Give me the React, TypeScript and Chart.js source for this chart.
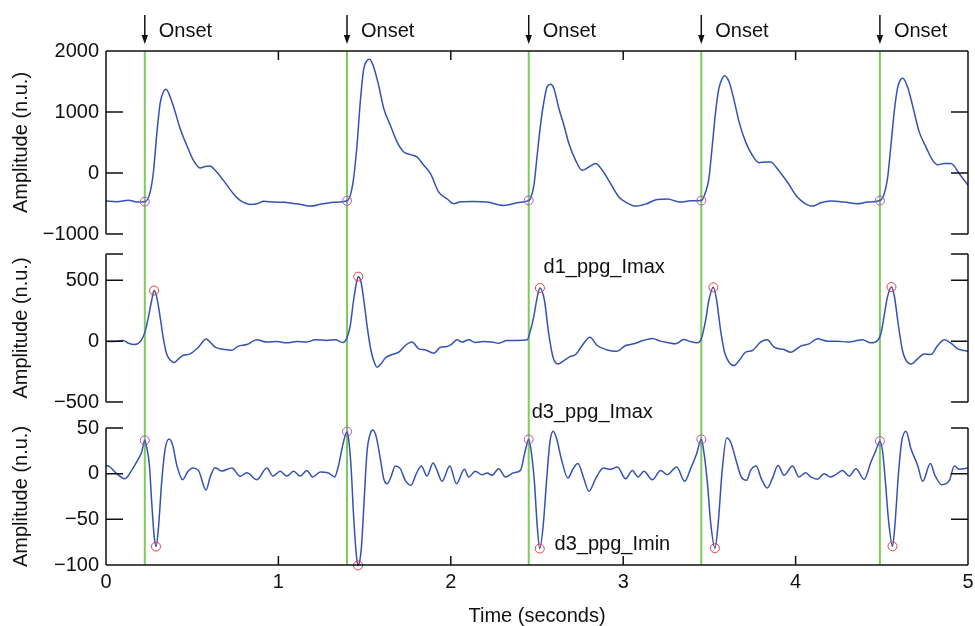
import { useEffect, useRef } from "react";
import { Chart, registerables } from "chart.js";
Chart.register(...registerables);

const FONT = '"Liberation Sans", Arial, Helvetica, sans-serif';
const BLUE = "#3452b4";
const GREEN = "#7dcc5c";
const PURPLE = "#b54fc6";
const RED = "#ee3b3b";
const INK = "#111111";

// ---------- data ----------
const onsetTimes = [0.225, 1.398, 2.452, 3.453, 4.489];
const onsetValues = [-470, -455, -449, -452, -452];

const ppgTime = [
  0, 0.062, 0.13, 0.178, 0.225, 0.256, 0.275, 0.294, 0.314, 0.333, 0.348, 0.372, 0.401, 0.43, 0.468, 0.507, 0.546, 0.575,
  0.604, 0.633, 0.681, 0.739, 0.778, 0.836, 0.88, 0.914, 0.972, 1.03, 1.088, 1.13, 1.185, 1.25, 1.32, 1.398, 1.417, 1.436,
  1.456, 1.475, 1.494, 1.514, 1.529, 1.552, 1.581, 1.611, 1.649, 1.688, 1.727, 1.765, 1.804, 1.843, 1.882, 1.93, 1.978,
  2.017, 2.056, 2.133, 2.211, 2.307, 2.385, 2.452, 2.462, 2.482, 2.501, 2.52, 2.54, 2.559, 2.579, 2.598, 2.627, 2.656, 2.685,
  2.724, 2.762, 2.801, 2.84, 2.879, 2.927, 2.975, 3.014, 3.072, 3.13, 3.198, 3.256, 3.333, 3.391, 3.453, 3.478, 3.497, 3.517,
  3.536, 3.555, 3.575, 3.588, 3.614, 3.643, 3.672, 3.71, 3.749, 3.788, 3.826, 3.855, 3.894, 3.952, 4.01, 4.049, 4.098, 4.146,
  4.204, 4.282, 4.359, 4.417, 4.489, 4.514, 4.533, 4.553, 4.572, 4.591, 4.607, 4.622, 4.649, 4.678, 4.717, 4.756, 4.795,
  4.824, 4.863, 4.901, 4.95, 5.0,
];
const ppgValue = [
  -460, -470, -445, -475, -470, -313, 16, 620, 1140, 1332, 1371, 1250, 1003, 729, 455, 208, 82, 105,
  115, 44, -121, -340, -450, -515, -500, -462, -477, -480, -500, -515, -543, -510, -480, -455, -367, -93,
  455, 1168, 1689, 1842, 1864, 1743, 1442, 1058, 784, 510, 345, 302, 263, 126, -11, -313, -422,
  -504, -472, -466, -477, -532, -488, -449, -422, -203, 291, 780, 1168, 1415, 1453, 1387, 1058, 784, 483,
  208, 44, 99, 154, 44, -175, -395, -477, -543, -510, -433, -428, -477, -455, -452, -313, -93, 455,
  1003, 1387, 1552, 1596, 1497, 1195, 839, 510, 291, 170, 181, 181, 71, -148, -395, -488, -543, -488,
  -461, -477, -504, -477, -452, -340, -93, 455, 1003, 1387, 1524, 1552, 1415, 1113, 674, 428, 208,
  137, 154, 154, -11, -203,
];

const d1Time = [
  0, 0.043, 0.101, 0.13, 0.168, 0.201, 0.226, 0.246, 0.265, 0.279, 0.294, 0.314, 0.333, 0.352, 0.376, 0.395, 0.42, 0.449,
  0.488, 0.536, 0.581, 0.604, 0.633, 0.681, 0.73, 0.768, 0.817, 0.875, 0.933, 0.991, 1.049, 1.107, 1.165, 1.214, 1.281, 1.33,
  1.373, 1.398, 1.417, 1.436, 1.452, 1.463, 1.479, 1.498, 1.518, 1.537, 1.556, 1.572, 1.595, 1.62, 1.659, 1.698, 1.736,
  1.775, 1.814, 1.853, 1.901, 1.94, 1.978, 2.007, 2.036, 2.065, 2.104, 2.142, 2.191, 2.239, 2.278, 2.326, 2.385, 2.443,
  2.462, 2.481, 2.501, 2.517, 2.543, 2.568, 2.593, 2.621, 2.656, 2.691, 2.724, 2.762, 2.807, 2.849, 2.907, 2.962, 3.014,
  3.062, 3.111, 3.169, 3.217, 3.256, 3.304, 3.353, 3.382, 3.43, 3.453, 3.478, 3.497, 3.523, 3.542, 3.565, 3.588, 3.614,
  3.643, 3.672, 3.71, 3.749, 3.797, 3.836, 3.875, 3.933, 3.972, 4.03, 4.078, 4.127, 4.185, 4.243, 4.301, 4.34, 4.388,
  4.436, 4.475, 4.495, 4.514, 4.533, 4.556, 4.572, 4.595, 4.62, 4.649, 4.672, 4.707, 4.746, 4.785, 4.824, 4.863, 4.901,
  4.94, 4.979, 5.0,
];
const d1Value = [
  -3, -3, 6, -17, -28, 0, 74, 198, 336, 416, 364, 198, 19, -105, -160, -176, -146, -116,
  -105, -50, 17, -8, -50, -66, -74, -41, -28, 11, -8, -3, -14, -3, -6, 11, 6, 11,
  -11, 28, 129, 336, 474, 530, 488, 309, 88, -77, -174, -215, -187, -138, -110, -91, -36,
  -8, -63, -72, -99, -50, -44, -22, 11, -8, 11, -11, -3, -8, -17, 6, 6, 11,
  88, 200, 360, 437, 336, 61, -132, -187, -160, -127, -110, -36, 33, -36, -72, -83, -36,
  -22, 3, 22, 0, -11, -22, 14, 0, -14, 19, 171, 336, 442, 336, 88, -91, -174,
  -201, -160, -91, -77, -8, 11, -50, -69, -91, -41, -22, 19, 0, 0, -8, 0, 11,
  -14, 6, 61, 212, 364, 445, 377, 143, -77, -174, -187, -146, -105, -110, -36, 11, -17,
  -63, -77, -83,
];
const d1MaxTime = [0.279, 1.463, 2.517, 3.523, 4.556];
const d1MaxValue = [416, 530, 437, 442, 445];

const d3Time = [
  0, 0.023, 0.062, 0.11, 0.149, 0.178, 0.207, 0.225, 0.236, 0.252, 0.265, 0.279, 0.29, 0.304, 0.323, 0.343, 0.366, 0.387,
  0.411, 0.445, 0.473, 0.503, 0.536, 0.581, 0.604, 0.633, 0.672, 0.73, 0.778, 0.817, 0.875, 0.933, 0.968, 1.01, 1.049,
  1.088, 1.127, 1.165, 1.198, 1.243, 1.287, 1.326, 1.349, 1.373, 1.398, 1.407, 1.421, 1.436, 1.452, 1.462, 1.481, 1.498,
  1.514, 1.533, 1.549, 1.568, 1.591, 1.611, 1.63, 1.653, 1.678, 1.707, 1.736, 1.769, 1.8, 1.829, 1.862, 1.897, 1.92, 1.949,
  1.994, 2.033, 2.079, 2.104, 2.142, 2.181, 2.211, 2.239, 2.278, 2.317, 2.365, 2.404, 2.428, 2.452, 2.466, 2.485, 2.501,
  2.516, 2.536, 2.555, 2.575, 2.594, 2.614, 2.641, 2.679, 2.71, 2.737, 2.772, 2.801, 2.84, 2.885, 2.927, 2.966, 3.014,
  3.053, 3.086, 3.12, 3.169, 3.217, 3.256, 3.31, 3.357, 3.391, 3.426, 3.453, 3.468, 3.488, 3.507, 3.532, 3.55, 3.575, 3.6,
  3.623, 3.652, 3.685, 3.716, 3.739, 3.772, 3.801, 3.836, 3.865, 3.898, 3.933, 3.982, 4.02, 4.059, 4.088, 4.127, 4.165,
  4.204, 4.233, 4.272, 4.311, 4.35, 4.398, 4.437, 4.466, 4.489, 4.505, 4.521, 4.538, 4.562, 4.576, 4.596, 4.615, 4.64,
  4.669, 4.708, 4.737, 4.782, 4.808, 4.847, 4.892, 4.921, 4.95, 5.0,
];
const d3Value = [
  9.1, 7.3, 0, -5.5, 3.6, 12.8, 23.7, 36.5, 29, 9, -31, -67.5, -79.8, -60, -9, 27, 38, 31,
  9, -6.6, 1.8, 6.2, 3.6, -18, -3.6, 6.6, 2.9, 6.2, -2.9, 1.1, -6.6, 6.2, -2.6, 2.6, -2.6,
  2.6, -2.6, 3.6, -3.6, 1.8, 1.1, -3.6, 9, 31, 46, 38, 9, -45.6, -89, -100.5, -82, -27,
  23.7, 43.8, 47.8, 40, 16.4, -5.5, -11, -3.6, 8.4, 5.5, -7.3, -12.8, 0, 8.4, -2.6, 11.7, 3.6, -8.4,
  8.4, -11, 4.7, -3.6, 2.6, -1.1, 0.7, -1.8, 5.5, -3.6, 1.1, 3.6, 21.9, 37.5, 25, -9, -56.6,
  -82, -56.6, -9, 34.7, 46.4, 38.3, 16.4, -4.7, 5.5, 11, -5.5, -19.3, -5.5, 6.2, 4.7, 7.3, -5.5,
  3.6, -3.6, 2.6, -6.6, 3.6, -1.1, 7.3, -8.4, 5.5, 21.9, 37.6, 23.7, -9, -53, -81.6, -56.6, 5.5, 39,
  34.7, 16.4, -3.6, -7.3, 3.6, 8.4, -5.5, -15.7, -5.5, 9, -1.8, 8.4, -3.6, 1.1, -3.6, -6.2, 0,
  -3.6, -1.1, 3.6, -2.6, 5.5, -6.2, 12.8, 25.5, 35.6, 23.7, -9, -49, -79.5, -56.6, -1.8, 34.7, 46.4,
  27.4, 9, -8.4, 11, -1.8, -12, -7.3, 8.4, 4.7, 6.2,
];
const d3MaxValue = [36.5, 46, 37.5, 37.6, 35.6];
const d3MinTime = [0.29, 1.462, 2.516, 3.532, 4.562];
const d3MinValue = [-79.8, -100.5, -82, -81.6, -79.5];

const xTicks = [0, 1, 2, 3, 4, 5];
const ppgTicks = [-1000, 0, 1000, 2000];
const d1Ticks = [-500, 0, 500];
const d1TickMarks = [-500, 0, 500, 716];
const d3Ticks = [-100, -50, 0, 50];

// ---------- helpers ----------
const toXY = (xs: number[], ys: number[]) => xs.map((x, i) => ({ x, y: ys[i] }));
const fmt = (v: number) => String(v).replace("-", "\u2212");

type Label = { text: string; t: number; v: number };
type Decor = {
  yTickMarks: number[];
  topBorder: boolean;
  bottomBorder: boolean;
  greenUp: number;
  greenDown: number;
  onsets: boolean;
  labels: Label[];
};

function makeDecor(d: Decor) {
  return {
    id: "decor",
    beforeDatasetsDraw(chart: any) {
      const { ctx, chartArea, scales } = chart;
      ctx.save();
      ctx.strokeStyle = GREEN;
      ctx.lineWidth = 2;
      ctx.beginPath();
      for (const t of onsetTimes) {
        const px = scales.x.getPixelForValue(t);
        ctx.moveTo(px, chartArea.top - d.greenUp);
        ctx.lineTo(px, chartArea.bottom + d.greenDown);
      }
      ctx.stroke();
      ctx.restore();
    },
    afterDraw(chart: any) {
      const { ctx, chartArea, scales } = chart;
      const { left, right, top, bottom } = chartArea;
      ctx.save();
      ctx.strokeStyle = INK;
      ctx.lineWidth = 1.5;
      ctx.beginPath();
      ctx.moveTo(left, top);
      ctx.lineTo(left, bottom);
      ctx.moveTo(right, top);
      ctx.lineTo(right, bottom);
      if (d.topBorder) {
        ctx.moveTo(left, top);
        ctx.lineTo(right, top);
      }
      if (d.bottomBorder) {
        ctx.moveTo(left, bottom);
        ctx.lineTo(right, bottom);
      }
      for (const v of d.yTickMarks) {
        const py = scales.y.getPixelForValue(v);
        ctx.moveTo(left, py);
        ctx.lineTo(left + 17, py);
        ctx.moveTo(right, py);
        ctx.lineTo(right - 17, py);
      }
      for (const t of xTicks) {
        const px = scales.x.getPixelForValue(t);
        if (d.topBorder) {
          ctx.moveTo(px, top);
          ctx.lineTo(px, top + 9);
        }
        if (d.bottomBorder) {
          ctx.moveTo(px, bottom);
          ctx.lineTo(px, bottom - 9);
        }
      }
      ctx.stroke();

      ctx.fillStyle = INK;
      ctx.font = `20px ${FONT}`;
      ctx.textBaseline = "alphabetic";
      ctx.textAlign = "left";
      if (d.onsets) {
        for (const t of onsetTimes) {
          const px = scales.x.getPixelForValue(t);
          ctx.beginPath();
          ctx.lineWidth = 1.5;
          ctx.moveTo(px, top - 36);
          ctx.lineTo(px, top - 14);
          ctx.stroke();
          ctx.beginPath();
          ctx.moveTo(px - 3.2, top - 16);
          ctx.lineTo(px + 3.2, top - 16);
          ctx.lineTo(px, top - 7);
          ctx.closePath();
          ctx.fill();
          ctx.fillText("Onset", px + 14, top - 14);
        }
      }
      for (const l of d.labels) {
        ctx.fillText(l.text, scales.x.getPixelForValue(l.t), scales.y.getPixelForValue(l.v));
      }
      ctx.restore();
    },
  };
}

function lineDs(xs: number[], ys: number[]) {
  return {
    data: toXY(xs, ys),
    borderColor: BLUE,
    borderWidth: 1.5,
    pointRadius: 0,
    cubicInterpolationMode: "monotone",
    fill: false,
    clip: false,
  };
}
function markerDs(xs: number[], ys: number[], color: string) {
  return {
    data: toXY(xs, ys),
    showLine: false,
    pointRadius: 4.5,
    pointBorderWidth: 1,
    pointBorderColor: color,
    pointBackgroundColor: "rgba(0,0,0,0)",
    clip: false,
  };
}

type PanelOpts = {
  datasets: any[];
  yMin: number;
  yMax: number;
  yTicks: number[];
  padTop: number;
  padBottom: number;
  showX: boolean;
  decor: Decor;
};

function makeConfig(p: PanelOpts): any {
  return {
    type: "line",
    data: { datasets: p.datasets },
    options: {
      responsive: false,
      animation: false,
      events: [],
      layout: { padding: { left: 0, right: 7, top: p.padTop, bottom: p.padBottom } },
      plugins: { legend: { display: false }, tooltip: { enabled: false } },
      scales: {
        x: {
          type: "linear",
          min: 0,
          max: 5,
          display: p.showX,
          grid: { display: false, drawTicks: false },
          border: { display: false },
          afterBuildTicks: (s: any) => {
            s.ticks = xTicks.map((v) => ({ value: v }));
          },
          afterFit: (s: any) => {
            s.height = p.showX ? 61 : 0;
            s.paddingLeft = 0;
            s.paddingRight = 0;
          },
          ticks: { color: INK, padding: 5, font: { family: FONT, size: 20 }, maxRotation: 0 },
          title: {
            display: p.showX,
            text: "Time (seconds)",
            color: INK,
            font: { family: FONT, size: 20, lineHeight: 1 },
            padding: { top: 0, bottom: 0 },
          },
        },
        y: {
          type: "linear",
          min: p.yMin,
          max: p.yMax,
          grid: { display: false, drawTicks: false },
          border: { display: false },
          afterBuildTicks: (s: any) => {
            s.ticks = p.yTicks.map((v) => ({ value: v }));
          },
          afterFit: (s: any) => {
            s.width = 106;
          },
          ticks: {
            color: INK,
            padding: 7,
            font: { family: FONT, size: 20 },
            callback: (v: number) => fmt(v),
          },
          title: {
            display: true,
            text: "Amplitude (n.u.)",
            color: INK,
            font: { family: FONT, size: 20, lineHeight: 1 },
            padding: { top: 11, bottom: 0 },
          },
        },
      },
    },
    plugins: [makeDecor(p.decor)],
  };
}

export default function App() {
  const r1 = useRef<HTMLCanvasElement>(null);
  const r2 = useRef<HTMLCanvasElement>(null);
  const r3 = useRef<HTMLCanvasElement>(null);

  useEffect(() => {
    const c1 = new Chart(
      r1.current!,
      makeConfig({
        datasets: [markerDs(onsetTimes, onsetValues, PURPLE), lineDs(ppgTime, ppgValue)],
        yMin: -1000,
        yMax: 2000,
        yTicks: ppgTicks,
        padTop: 51,
        padBottom: 26,
        showX: false,
        decor: {
          yTickMarks: ppgTicks,
          topBorder: true,
          bottomBorder: false,
          greenUp: 0,
          greenDown: 10,
          onsets: true,
          labels: [],
        },
      })
    );
    const c2 = new Chart(
      r2.current!,
      makeConfig({
        datasets: [markerDs(d1MaxTime, d1MaxValue, RED), lineDs(d1Time, d1Value)],
        yMin: -500,
        yMax: 716,
        yTicks: d1Ticks,
        padTop: 34,
        padBottom: 28,
        showX: false,
        decor: {
          yTickMarks: d1TickMarks,
          topBorder: false,
          bottomBorder: false,
          greenUp: 10,
          greenDown: 13,
          onsets: false,
          labels: [{ text: "d1_ppg_Imax", t: 2.538, v: 561 }],
        },
      })
    );
    const c3 = new Chart(
      r3.current!,
      makeConfig({
        datasets: [
          markerDs(onsetTimes, d3MaxValue, PURPLE),
          markerDs(d3MinTime, d3MinValue, RED),
          lineDs(d3Time, d3Value),
        ],
        yMin: -100,
        yMax: 50,
        yTicks: d3Ticks,
        padTop: 28,
        padBottom: 0,
        showX: true,
        decor: {
          yTickMarks: d3Ticks,
          topBorder: false,
          bottomBorder: true,
          greenUp: 13,
          greenDown: 0,
          onsets: false,
          labels: [
            { text: "d3_ppg_Imax", t: 2.469, v: 60.5 },
            { text: "d3_ppg_Imin", t: 2.602, v: -84 },
          ],
        },
      })
    );
    return () => {
      c1.destroy();
      c2.destroy();
      c3.destroy();
    };
  }, []);

  const cs = (top: number, h: number): any => ({
    position: "absolute",
    left: 0,
    top,
    width: 975,
    height: h,
    display: "block",
  });

  return (
    <div
      style={{
        position: "fixed",
        left: 0,
        top: 0,
        width: 975,
        height: 626,
        background: "#ffffff",
        overflow: "hidden",
      }}
    >
      <canvas ref={r1} width={975} height={260} style={cs(0, 260)} />
      <canvas ref={r2} width={975} height={210} style={cs(220, 210)} />
      <canvas ref={r3} width={975} height={226} style={cs(400, 226)} />
    </div>
  );
}
